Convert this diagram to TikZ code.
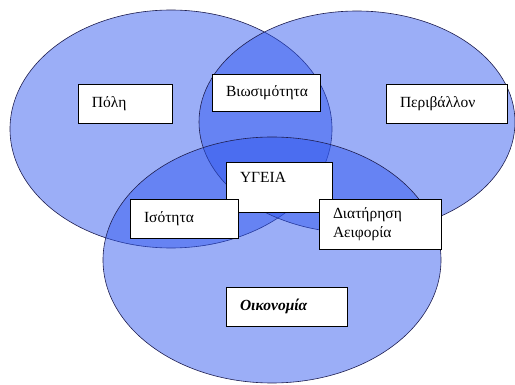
\documentclass[tikz,border=0pt]{standalone}
\usepackage{fontspec}
\setmainfont{Liberation Serif}
\definecolor{vennfill}{RGB}{45,85,238}
\definecolor{vennedge}{RGB}{30,30,80}
\begin{document}
\begin{tikzpicture}[x=1pt,y=-1pt,
  venn/.style={fill=vennfill,fill opacity=0.48,draw=vennedge,draw opacity=1,line width=0.6pt},
  box/.style={draw=black,fill=white,line width=0.8pt,inner xsep=14pt,inner ysep=0pt,align=left,
    font=\fontsize{15.5}{19.5}\selectfont}]
\useasboundingbox (0,0) rectangle (515,385);
\draw[venn] (171,129) ellipse [x radius=161pt, y radius=119pt];
\draw[venn] (357,122) ellipse [x radius=158pt, y radius=111pt];
\draw[venn] (272,260) ellipse [x radius=169pt, y radius=123pt];
\node[box,text width=66pt,minimum height=39pt] (poli) at (125,103.5) {Πόλη};
\node[box,text width=80pt,minimum height=37pt] (bios) at (266,92.5) {Βιωσιμότητα};
\node[box,text width=93pt,minimum height=39pt] (peri) at (446.5,103.5) {Περιβάλλον};
\node[box,text width=78pt,minimum height=50pt] (ygeia) at (279,187) {ΥΓΕΙΑ\\\mbox{}};
\node[box,text width=80pt,minimum height=39pt] (isot) at (184,218.5) {Ισότητα};
\node[box,text width=94pt,minimum height=50pt] (diat) at (380,224) {Διατήρηση\\Αειφορία};
\node[box,text width=93pt,minimum height=39pt] (oik) at (286.5,306.5) {\textbf{\textit{Οικονομία}}};
\end{tikzpicture}
\end{document}
